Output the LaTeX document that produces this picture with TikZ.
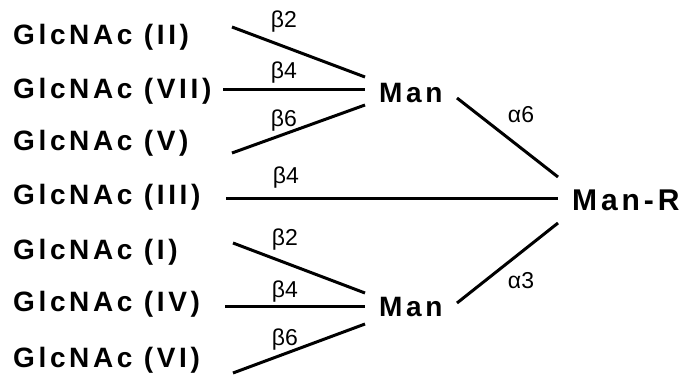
\documentclass[tikz,border=0pt]{standalone}
\usepackage{fontspec}
\setmainfont{Liberation Sans}
\newfontfamily\sugarfont{Liberation Sans}[LetterSpace=13]
\begin{document}
\begin{tikzpicture}[x=1pt,y=-1pt,
  sugar/.style={font=\sugarfont\bfseries\fontsize{28}{30}\selectfont, inner sep=0pt, anchor=west},
  bigsugar/.style={font=\sugarfont\bfseries\fontsize{30}{32}\selectfont, inner sep=0pt, anchor=west},
  bond/.style={font=\fontsize{23}{25}\selectfont, inner sep=0pt, anchor=base},
  link/.style={line width=3pt}]
\useasboundingbox (0,0) rectangle (684,377);
% sugars
\node[sugar] (g2) at (13,37) {GlcNAc (II)};
\node[sugar] (g7) at (13,91) {GlcNAc (VII)};
\node[sugar] (g5) at (13,143) {GlcNAc (V)};
\node[sugar] (g3) at (13,197) {GlcNAc (III)};
\node[sugar] (g1) at (13,252) {GlcNAc (I)};
\node[sugar] (g4) at (13,304) {GlcNAc (IV)};
\node[sugar] (g6) at (13,360) {GlcNAc (VI)};
\node[sugar] (m1) at (379,93) {Man};
\node[sugar] (m2) at (379,307) {Man};
\node[bigsugar] (mr) at (572,200) {Man-R};
% connector ends
\coordinate (s2) at (232,27);  \coordinate (e2) at (365,77);
\coordinate (s7) at (223,90);  \coordinate (e7) at (365,90);
\coordinate (s5) at (232,153); \coordinate (e5) at (365,105);
\coordinate (s3) at (226,198); \coordinate (e3) at (558,198);
\coordinate (s1) at (233,243); \coordinate (e1) at (365,293);
\coordinate (s4) at (225,306); \coordinate (e4) at (365,306);
\coordinate (s6) at (233,373); \coordinate (e6) at (365,324);
\coordinate (a1) at (457,98);  \coordinate (b1) at (558,177);
\coordinate (a2) at (457,303); \coordinate (b2) at (558,223);
% connectors
\draw[link] (s2) -- (e2);
\draw[link] (s7) -- (e7);
\draw[link] (s5) -- (e5);
\draw[link] (s3) -- (e3);
\draw[link] (s1) -- (e1);
\draw[link] (s4) -- (e4);
\draw[link] (s6) -- (e6);
\draw[link] (a1) -- (b1);
\draw[link] (a2) -- (b2);
% bond labels
\node[bond] (l2) at (284,28) {β2};
\node[bond] (l7) at (284,79) {β4};
\node[bond] (l5) at (284,126) {β6};
\node[bond] (l3) at (286,183) {β4};
\node[bond] (l1) at (285,245) {β2};
\node[bond] (l4) at (285,297) {β4};
\node[bond] (l6) at (285,345) {β6};
\node[bond] (la6) at (521,122) {α6};
\node[bond] (la3) at (521,288) {α3};
\end{tikzpicture}
\end{document}
